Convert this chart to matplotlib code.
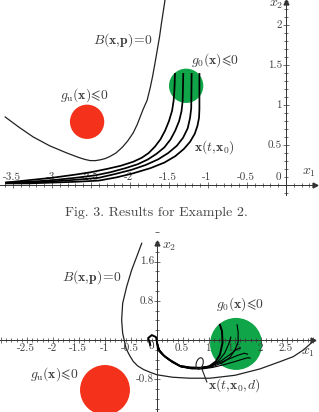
import numpy as np
import matplotlib
matplotlib.use('Agg')
import matplotlib.pyplot as plt
from matplotlib.patches import Ellipse
from matplotlib.ticker import MultipleLocator

plt.rcParams['mathtext.fontset'] = 'cm'
plt.rcParams['font.family'] = ['cmr10', 'DejaVu Serif']
plt.rcParams['axes.unicode_minus'] = False

# ---------------- Top panel (Example 2, Fig. 3 upper) ----------------
top_B_x = [-3.60, -3.42, -3.24, -3.03, -2.81, -2.66, -2.58, -2.51, -2.44, -2.38, -2.32, -2.26, -2.18, -2.10,
           -2.03, -1.96, -1.91, -1.87, -1.83, -1.78, -1.74, -1.71, -1.68, -1.65, -1.62, -1.60, -1.575, -1.55]
top_B_y = [0.85, 0.72, 0.60, 0.49, 0.40, 0.345, 0.32, 0.305, 0.305, 0.315, 0.33, 0.355, 0.40, 0.47,
           0.55, 0.65, 0.75, 0.85, 0.95, 1.06, 1.22, 1.36, 1.52, 1.69, 1.86, 2.00, 2.16, 2.32]

top_traj_A_x = [-3.60, -3.30, -3.00, -2.70, -2.50, -2.30, -2.12, -1.96, -1.85, -1.76, -1.68, -1.61, -1.55,
                -1.50, -1.46, -1.44, -1.43, -1.423]
top_traj_A_y = [0.03, 0.06, 0.09, 0.13, 0.16, 0.20, 0.24, 0.29, 0.34, 0.40, 0.48, 0.57, 0.68,
                0.80, 0.93, 1.06, 1.20, 1.40]
top_traj_B_x = [-3.60, -3.30, -3.00, -2.70, -2.45, -2.25, -2.06, -1.90, -1.77, -1.66, -1.56, -1.48, -1.42,
                -1.37, -1.34, -1.325, -1.317]
top_traj_B_y = [0.03, 0.04, 0.06, 0.09, 0.12, 0.16, 0.21, 0.26, 0.32, 0.39, 0.47, 0.57, 0.68,
                0.80, 0.92, 1.05, 1.40]
top_traj_C_x = [-3.60, -3.30, -3.00, -2.70, -2.40, -2.18, -1.98, -1.80, -1.64, -1.51, -1.40, -1.32, -1.26,
                -1.23, -1.215, -1.21]
top_traj_C_y = [0.025, 0.03, 0.045, 0.065, 0.09, 0.14, 0.19, 0.25, 0.32, 0.40, 0.49, 0.59, 0.71,
                0.84, 0.96, 1.40]
top_traj_D_x = [-3.60, -3.30, -3.00, -2.70, -2.40, -2.17, -1.96, -1.74, -1.56, -1.42, -1.31, -1.23, -1.17,
                -1.135, -1.115, -1.11, -1.11]
top_traj_D_y = [0.02, 0.02, 0.03, 0.04, 0.055, 0.096, 0.146, 0.21, 0.28, 0.36, 0.45, 0.54, 0.64,
                0.74, 0.84, 0.95, 1.40]

top_unsafe_center = (-2.55, 0.79)
top_unsafe_radius = 0.22
top_init_center = (-1.28, 1.24)
top_init_radius = 0.22

top_xticks = [-3.5, -3, -2.5, -2, -1.5, -1, -0.5]
top_xtick_labels = ['-3.5', '-3', '-2.5', '-2', '-1.5', '-1', '-0.5']
top_yticks = [0.5, 1, 1.5, 2]
top_ytick_labels = ['0.5', '1', '1.5', '2']

# ---------------- Bottom panel ----------------
bot_B_x = [-0.294, -0.39, -0.487, -0.583, -0.66, -0.68, -0.66, -0.596, -0.53, -0.455, -0.37, -0.263, -0.13,
           0.0, 0.30, 0.63, 1.02, 1.50, 1.98, 2.37, 2.62, 2.82, 3.0]
bot_B_y = [1.973, 1.70, 1.43, 1.09, 0.75, 0.41, 0.136, -0.17, -0.31, -0.44, -0.53, -0.60, -0.66,
           -0.71, -0.76, -0.78, -0.78, -0.72, -0.59, -0.44, -0.34, -0.20, -0.03]

bot_traj_1_x = [-0.13, -0.17, -0.10, -0.02, 0.00, 0.02, 0.12, 0.25, 0.44, 0.63, 0.83, 1.00, 1.13, 1.21, 1.26, 1.25, 1.21]
bot_traj_1_y = [-0.10, 0.04, 0.10, 0.06, -0.04, -0.20, -0.31, -0.41, -0.53, -0.56, -0.57, -0.54, -0.44, -0.30, -0.06, 0.18, 0.31]
bot_traj_2_x = [0.00, 0.05, 0.15, 0.28, 0.45, 0.65, 0.85, 1.05, 1.25, 1.40, 1.50, 1.56, 1.56, 1.54]
bot_traj_2_y = [-0.06, -0.22, -0.34, -0.44, -0.54, -0.58, -0.58, -0.55, -0.47, -0.36, -0.20, -0.04, 0.16, 0.31]
bot_traj_3_x = [0.00, 0.06, 0.17, 0.30, 0.47, 0.67, 0.87, 1.07, 1.30, 1.50, 1.65, 1.75, 1.79]
bot_traj_3_y = [-0.08, -0.24, -0.36, -0.46, -0.55, -0.59, -0.59, -0.56, -0.50, -0.44, -0.39, -0.36, -0.37]
bot_traj_4_x = [0.00, 0.04, 0.14, 0.27, 0.44, 0.64, 0.84, 1.04, 1.22, 1.40, 1.56, 1.68, 1.74]
bot_traj_4_y = [-0.04, -0.19, -0.32, -0.42, -0.52, -0.56, -0.56, -0.53, -0.46, -0.38, -0.31, -0.27, -0.29]
bot_traj_5_x = [0.00, 0.05, 0.16, 0.29, 0.46, 0.66, 0.86, 1.06, 1.24, 1.40, 1.52, 1.60]
bot_traj_5_y = [-0.07, -0.23, -0.35, -0.45, -0.55, -0.58, -0.57, -0.52, -0.42, -0.30, -0.20, -0.16]
bot_traj_6_x = [0.00, 0.05, 0.15, 0.28, 0.45, 0.65, 0.85, 1.04, 1.18, 1.30, 1.38, 1.42]
bot_traj_6_y = [-0.05, -0.21, -0.33, -0.43, -0.53, -0.57, -0.58, -0.54, -0.43, -0.27, -0.08, 0.06]

bot_unsafe_center = (-1.0, -1.02)
bot_unsafe_radius = 0.48
bot_init_center = (1.52, -0.08)
bot_init_radius = 0.50

bot_loop_center = (0.82, -0.48)
bot_pointer_start = (0.86, -0.58)
bot_pointer_end = (0.96, -0.86)

bot_xticks = [-2.5, -2, -1.5, -1, -0.5, 0.5, 1, 1.5, 2, 2.5]
bot_xtick_labels = ['-2.5', '-2', '-1.5', '-1', '-0.5', '0.5', '1', '1.5', '2', '2.5']
bot_yticks = [1.6, 0.8, -0.8]
bot_ytick_labels = ['1.6', '0.8', '-0.8']

RED = '#f4321c'
GREEN = '#0fa548'
TXT = '#3c3c3c'
AXC = '#333333'

W, H = 319, 412
fig = plt.figure(figsize=(W / 100, H / 100), dpi=100)

ax1 = fig.add_axes([0, 1 - 196 / H, 1, 196 / H])
ax2 = fig.add_axes([0, 0, 1, 182 / H])
ax1.set_xlim(-286 / 78, 33 / 78)
ax1.set_ylim(-11 / 80, 185 / 80)
ax2.set_xlim(-157 / 52, 162 / 52)
ax2.set_ylim(-72 / 49, 110 / 49)


def style_axes(ax, xend, yend, ylow, xmaj, xmin, ymaj, ymin):
    ax.patch.set_alpha(0)
    for s in ['top', 'right']:
        ax.spines[s].set_visible(False)
    for s in ['left', 'bottom']:
        ax.spines[s].set_position(('data', 0))
        ax.spines[s].set_linewidth(0.7)
        ax.spines[s].set_color(AXC)
    x0 = ax.get_xlim()[0]
    ax.spines['bottom'].set_bounds(x0, xend)
    ax.spines['left'].set_bounds(ylow, yend)
    ax.xaxis.set_major_locator(MultipleLocator(xmaj))
    ax.xaxis.set_minor_locator(MultipleLocator(xmin))
    ax.yaxis.set_major_locator(MultipleLocator(ymaj))
    ax.yaxis.set_minor_locator(MultipleLocator(ymin))
    ax.tick_params(which='both', direction='inout', labelbottom=False, labelleft=False,
                   color=AXC, width=0.5)
    ax.tick_params(which='major', length=4)
    ax.tick_params(which='minor', length=2.5)
    ax.plot([xend], [0], marker='>', ms=3.5, color=AXC, clip_on=False, zorder=5)
    ax.plot([0], [yend], marker='^', ms=3.5, color=AXC, clip_on=False, zorder=5)


style_axes(ax1, 0.372, 2.29, -0.13, 0.5, 0.1, 0.5, 0.1)
style_axes(ax2, 3.0, 1.98, -1.47, 0.5, 0.1, 0.8, 0.2)
ax1.set_xticks([t for t in np.arange(-3.6, 0.35, 0.1)], minor=True)
ax2.set_xticks([t for t in np.arange(-3.0, 2.95, 0.1)], minor=True)


def round_disc(ax, center, r, color):
    p0 = ax.transData.transform((0, 0))
    p1 = ax.transData.transform((1, 1))
    ratio = (p1[0] - p0[0]) / (p1[1] - p0[1])
    ax.add_patch(Ellipse(center, 2 * r, 2 * r * ratio, facecolor=color, edgecolor='none', zorder=1))


# ---- top panel content ----
round_disc(ax1, top_unsafe_center, top_unsafe_radius, RED)
round_disc(ax1, top_init_center, top_init_radius, GREEN)
ax1.plot(top_B_x, top_B_y, color='#222222', lw=0.9, zorder=3)
for xs, ys in [(top_traj_A_x, top_traj_A_y), (top_traj_B_x, top_traj_B_y),
               (top_traj_C_x, top_traj_C_y), (top_traj_D_x, top_traj_D_y)]:
    ax1.plot(xs, ys, color='black', lw=1.25, zorder=4, solid_capstyle='butt', solid_joinstyle='round')

for v, lab in zip(top_xticks, top_xtick_labels):
    ax1.annotate(lab, xy=(v, 0), xytext=(-1, 8), textcoords='offset pixels',
                 ha='center', va='center', fontsize=8, color=TXT)
for v, lab in zip(top_yticks, top_ytick_labels):
    ax1.annotate(lab, xy=(0, v), xytext=(-4, 0), textcoords='offset pixels',
                 ha='right', va='center', fontsize=8, color=TXT)
ax1.annotate('0', xy=(0, 0), xytext=(-8, 8), textcoords='offset pixels',
             ha='center', va='center', fontsize=8, color=TXT)

ax1.text(-2.10, 1.81, r'$B(\mathbf{x},\!\mathbf{p})\!=\!0$', ha='center', va='center', fontsize=9.8, color=TXT)
ax1.text(-2.58, 1.125, r'$g_{\rm u}(\mathbf{x})\!\leqslant\!0$', ha='center', va='center', fontsize=9.8, color=TXT)
ax1.text(-0.91, 1.56, r'$g_0(\mathbf{x})\!\leqslant\!0$', ha='center', va='center', fontsize=9.8, color=TXT)
ax1.text(-0.92, 0.475, r'$\mathbf{x}(t,\!\mathbf{x}_0)$', ha='center', va='center', fontsize=9.8, color=TXT)
ax1.text(-0.13, 2.25, r'$x_2$', ha='center', va='center', fontsize=10, color=TXT)
ax1.text(0.295, 0.15, r'$x_1$', ha='center', va='center', fontsize=10, color=TXT)

# ---- caption ----
fig.text(156 / W, 1 - 213 / H, 'Fig. 3. Results for Example 2.', ha='center', va='center',
         fontsize=10, color='#444444')

# ---- bottom panel content ----
round_disc(ax2, bot_unsafe_center, bot_unsafe_radius, RED)
round_disc(ax2, bot_init_center, bot_init_radius, GREEN)
ax2.plot(bot_B_x, bot_B_y, color='#222222', lw=0.9, zorder=3)
bot_trajs = [(bot_traj_1_x, bot_traj_1_y), (bot_traj_2_x, bot_traj_2_y), (bot_traj_3_x, bot_traj_3_y),
             (bot_traj_4_x, bot_traj_4_y), (bot_traj_5_x, bot_traj_5_y), (bot_traj_6_x, bot_traj_6_y)]
for i, (xs, ys) in enumerate(bot_trajs):
    ax2.plot(xs, ys, color='black', lw=1.4 if i == 0 else 0.8, zorder=4, solid_joinstyle='round')
ax2.add_patch(Ellipse(bot_loop_center, 0.13, 0.24, angle=-15, fill=False, edgecolor='#222222', lw=0.8, zorder=5))
ax2.annotate('', xy=bot_pointer_end, xytext=bot_pointer_start,
             arrowprops=dict(arrowstyle='-', color='#222222', lw=0.8, shrinkA=0, shrinkB=0))

for v, lab in zip(bot_xticks, bot_xtick_labels):
    ax2.annotate(lab, xy=(v, 0), xytext=(-1, -8), textcoords='offset pixels',
                 ha='center', va='center', fontsize=8, color=TXT)
ax2.annotate('0', xy=(0, 0), xytext=(-6, -6), textcoords='offset pixels',
             ha='center', va='center', fontsize=8, color=TXT)
for v, lab in zip(bot_yticks, bot_ytick_labels):
    ax2.annotate(lab, xy=(0, v), xytext=(-3, 0), textcoords='offset pixels',
                 ha='right', va='center', fontsize=8, color=TXT)

ax2.text(-1.25, 1.29, r'$B(\mathbf{x},\!\mathbf{p})\!=\!0$', ha='center', va='center', fontsize=9.8, color=TXT)
ax2.text(-1.98, -0.69, r'$g_{\rm u}(\mathbf{x})\!\leqslant\!0$', ha='center', va='center', fontsize=9.8, color=TXT)
ax2.text(1.60, 0.73, r'$g_0(\mathbf{x})\!\leqslant\!0$', ha='center', va='center', fontsize=9.8, color=TXT)
ax2.text(0.98, -0.92, r'$\mathbf{x}(t,\!\mathbf{x}_0,\!d)$', ha='left', va='center', fontsize=9.8, color=TXT)
ax2.text(0.23, 1.90, r'$x_2$', ha='center', va='center', fontsize=10, color=TXT)
ax2.text(2.90, -0.27, r'$x_1$', ha='center', va='center', fontsize=10, color=TXT)

fig.savefig('out.png', dpi=100)
